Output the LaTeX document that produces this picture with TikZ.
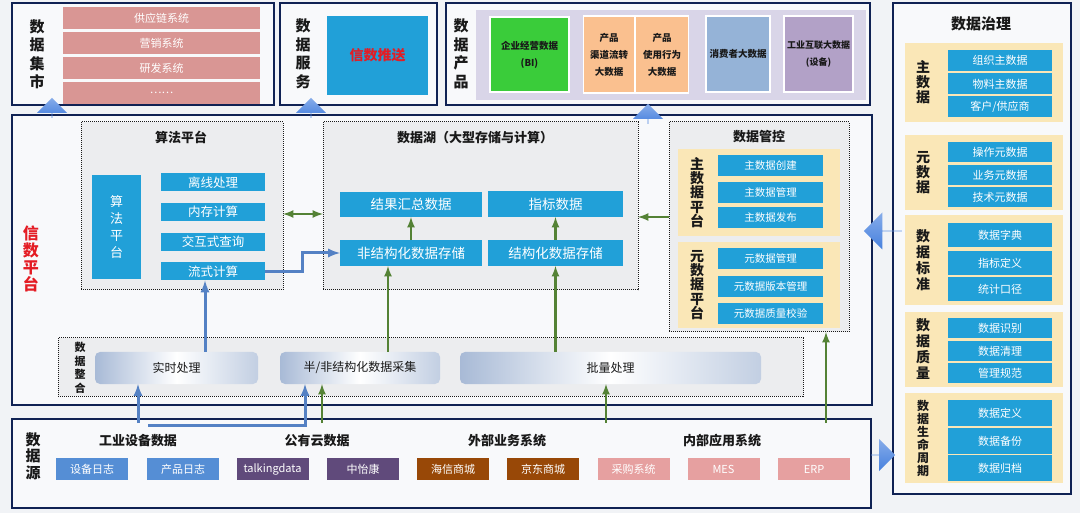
\documentclass[tikz,border=0pt]{standalone}
\usepackage{fontspec}
\setmainfont{Noto Sans CJK SC}
\usetikzlibrary{shapes.arrows}

\definecolor{navy}{RGB}{16,34,84}
\definecolor{bg}{RGB}{241,243,246}
\definecolor{panel}{RGB}{248,249,251}
\definecolor{itemblue}{RGB}{33,160,216}
\definecolor{pinkrow}{RGB}{217,150,148}
\definecolor{govyellow}{RGB}{250,231,183}
\definecolor{dotfill}{RGB}{236,237,239}
\definecolor{arrgreen}{RGB}{84,130,53}
\definecolor{arrblue}{RGB}{84,129,196}
\definecolor{lav}{RGB}{217,213,232}
\definecolor{bigreen}{RGB}{58,204,58}
\definecolor{peach}{RGB}{250,192,143}
\definecolor{consblue}{RGB}{149,179,215}
\definecolor{iiotpurple}{RGB}{178,161,199}
\definecolor{chipblue}{RGB}{85,142,213}
\definecolor{chippurple}{RGB}{96,74,123}
\definecolor{chipbrown}{RGB}{152,72,7}
\definecolor{chippink}{RGB}{230,160,160}
\definecolor{tubeedge}{RGB}{168,186,214}
\definecolor{ink}{RGB}{25,25,25}
\definecolor{xsred}{RGB}{228,28,36}
\definecolor{blockblue}{RGB}{70,128,222}

\newcommand{\vsz}[2]{\fontsize{#1}{#2}\selectfont}

\begin{document}
\begin{tikzpicture}[x=1pt, y=-1pt,
  every node/.style={inner sep=0pt, outer sep=0pt},
  outerframe/.style={draw=navy, line width=2.6pt, fill=panel},
  vlabel/.style={align=center, text=ink, font=\vsz{15}{18.5}\bfseries},
  item/.style={fill=itemblue, text=white, font=\vsz{11}{13}},
  govitem/.style={item, minimum width=104},
  ctlitem/.style={item, minimum width=105, minimum height=21, font=\vsz{10.5}{12}},
  lakeitem/.style={item, font=\vsz{13.5}{15}},
  dotbox/.style={draw=ink, densely dotted, line width=1pt, fill=dotfill},
  boxtitle/.style={text=ink, font=\vsz{13}{15}\bfseries},
  govgroup/.style={fill=govyellow},
  tube/.style={rounded corners=5pt, left color=tubeedge, right color=tubeedge!70, middle color=white, text=ink, font=\vsz{12}{14}},
  chip/.style={minimum width=72, minimum height=22, text=white, font=\vsz{11}{13}},
  srchead/.style={text=ink, font=\vsz{13}{15}\bfseries},
  prod/.style={text=ink, align=center, font=\vsz{9.5}{17}\bfseries, draw=white, line width=1.5pt},
  greenarr/.style={draw=arrgreen, line width=2.5pt, -latex},
  bluearr/.style={draw=arrblue, line width=3pt, -latex},
  blockarr/.style={single arrow, single arrow head extend=8pt, minimum width=30, minimum height=20, top color=blockblue!65, bottom color=blockblue, draw=none}
]
\fill[bg] (0,0) rectangle (1080,513); % background
\useasboundingbox (0,0) rectangle (1080,513);

% data mart
\node[outerframe, minimum width=262, minimum height=102] (mart) at (143,54) {};
\node[vlabel] (martlbl) at (37,54) {数\\据\\集\\市};
\foreach \t [count=\i] in {供应链系统,营销系统,研发系统,……}
  \node[fill=pinkrow, text=white, minimum width=197, minimum height=22, font=\vsz{11}{13}] (mart\i) at (161.5,{18.5+24.7*(\i-1)}) {\t};

% data service
\node[outerframe, minimum width=157, minimum height=102] (serv) at (358.5,54) {};
\node[vlabel] (servlbl) at (303,54) {数\\据\\服\\务};
\node[fill=itemblue, minimum width=101, minimum height=79, text=xsred, font=\vsz{14}{16}\bfseries] (push) at (377.5,55.5) {信数推送};

% data products
\node[outerframe, minimum width=424, minimum height=102] (prodframe) at (658,54) {};
\node[vlabel] (prodlbl) at (461,54) {数\\据\\产\\品};
\node[fill=lav, minimum width=390, minimum height=90] (band) at (671,55) {};
\node[prod, fill=bigreen, minimum width=79, minimum height=75] (bi) at (529.5,54.5) {企业经营数据\\(BI)};
\node[prod, fill=peach, minimum width=51, minimum height=77] (chan) at (609,54.5) {产品\\渠道流转\\大数据};
\node[prod, fill=peach, minimum width=53, minimum height=77] (use) at (662,54.5) {产品\\使用行为\\大数据};
\node[prod, fill=consblue, minimum width=64, minimum height=76] (cons) at (738,54) {消费者大数据};
\node[prod, fill=iiotpurple, minimum width=69, minimum height=76, font=\vsz{9}{17}\bfseries] (iiot) at (818.5,54) {工业互联大数据\\(设备)};

% data governance
\node[outerframe, minimum width=178, minimum height=491] (gov) at (982,248.5) {};
\node[boxtitle, font=\vsz{15}{17}\bfseries] (govtitle) at (981,24) {数据治理};
\node[govgroup, minimum width=158, minimum height=79] (mdg) at (984,82.5) {};
\node[vlabel, font=\vsz{14}{15}\bfseries] (mdglbl) at (923,82.5) {主\\数\\据};
\node[govitem, minimum height=21] (md1) at (1000,60.5) {组织主数据};
\node[govitem, minimum height=21] (md2) at (1000,84) {物料主数据};
\node[govitem, minimum height=21] (md3) at (1000,106.5) {客户/供应商};
\node[govgroup, minimum width=158, minimum height=75] (metag) at (984,172.5) {};
\node[vlabel, font=\vsz{14}{15}\bfseries] (metaglbl) at (923,172.5) {元\\数\\据};
\foreach \t/\y [count=\i] in {操作元数据/152.5, 业务元数据/175, 技术元数据/197}
  \node[govitem, minimum height=20] (mt\i) at (1000,\y) {\t};
\node[govgroup, minimum width=158, minimum height=90] (stdg) at (984,260) {};
\node[vlabel, font=\vsz{14}{16}\bfseries] (stdglbl) at (923,260) {数\\据\\标\\准};
\foreach \t/\y [count=\i] in {数据字典/235, 指标定义/263, 统计口径/289}
  \node[govitem, minimum height=24] (st\i) at (1000,\y) {\t};
\node[govgroup, minimum width=158, minimum height=75] (qg) at (984,349.5) {};
\node[vlabel, font=\vsz{14}{16}\bfseries] (qglbl) at (923,349.5) {数\\据\\质\\量};
\foreach \t/\y [count=\i] in {数据识别/328.5, 数据清理/351, 管理规范/373}
  \node[govitem, minimum height=20] (q\i) at (1000,\y) {\t};
\node[govgroup, minimum width=158, minimum height=90] (lcg) at (984,438) {};
\node[vlabel, font=\vsz{12}{13}\bfseries] (lcglbl) at (923,438) {数\\据\\生\\命\\周\\期};
\foreach \t/\y [count=\i] in {数据定义/413, 数据备份/441, 数据归档/468}
  \node[govitem, minimum height=26] (lc\i) at (1000,\y) {\t};

% platform
\node[outerframe, minimum width=860, minimum height=290] (plat) at (442,260) {};
\node[vlabel, text=xsred, font=\vsz{16}{17}\bfseries] (platlbl) at (31,259) {信\\数\\平\\台};

% algorithm platform
\node[dotbox, minimum width=202, minimum height=168] (algo) at (182,206) {};
\node[boxtitle] (algotitle) at (181,137) {算法平台};
\node[item, minimum width=49, minimum height=104, align=center, font=\vsz{13}{17}] (algov) at (116.5,227) {算\\法\\平\\台};
\foreach \t/\y/\n in {离线处理/182.5/off, 内存计算/212/mem, 交互式查询/242/inter, 流式计算/271.5/stream}
  \node[item, minimum width=104, minimum height=18, font=\vsz{12.5}{14}] (\n) at (213,\y) {\t};

% data lake
\node[dotbox, minimum width=315, minimum height=168] (lake) at (480.5,206) {};
\node[boxtitle] (laketitle) at (475,138) {数据湖（大型存储与计算）};
\node[lakeitem, minimum width=142, minimum height=25] (result) at (411,204.5) {结果汇总数据};
\node[lakeitem, minimum width=135, minimum height=26] (index) at (555.5,204) {指标数据};
\node[lakeitem, minimum width=142, minimum height=26] (unstr) at (411,253) {非结构化数据存储};
\node[lakeitem, minimum width=135, minimum height=26] (str) at (555.5,253) {结构化数据存储};

% data control
\node[dotbox, minimum width=180, minimum height=210] (ctrl) at (759,227) {};
\node[boxtitle] (ctrltitle) at (759,137) {数据管控};
\node[govgroup, minimum width=162, minimum height=87] (mdp) at (759,192.5) {};
\node[vlabel, font=\vsz{14}{14.3}\bfseries] (mdplbl) at (697,192.5) {主\\数\\据\\平\\台};
\foreach \t/\y [count=\i] in {主数据创建/165.5, 主数据管理/192.5, 主数据发布/217.5}
  \node[ctlitem] (mdp\i) at (770.5,\y) {\t};
\node[govgroup, minimum width=162, minimum height=86] (mtp) at (759,285) {};
\node[vlabel, font=\vsz{14}{14.3}\bfseries] (mtplbl) at (697,285) {元\\数\\据\\平\\台};
\foreach \t/\y [count=\i] in {元数据管理/258.5, 元数据版本管理/286.5, 元数据质量校验/313.5}
  \node[ctlitem] (mtp\i) at (770.5,\y) {\t};

% data integration
\node[dotbox, minimum width=745, minimum height=58] (integ) at (430.5,367) {};
\node[vlabel, font=\vsz{11}{13.5}\bfseries] (integlbl) at (80,368) {数\\据\\整\\合};
\node[tube, minimum width=163, minimum height=32] (rt) at (176.5,368) {实时处理};
\node[tube, minimum width=160, minimum height=32] (semi) at (360,368) {半/非结构化数据采集};
\node[tube, minimum width=301, minimum height=32] (batch) at (610.5,368) {批量处理};

% data sources
\node[outerframe, minimum width=859, minimum height=89] (src) at (441.5,463.5) {};
\node[vlabel, font=\vsz{15}{16.5}\bfseries] (srclbl) at (33,456) {数\\据\\源};
\node[srchead] (h1) at (138,441) {工业设备数据};
\node[srchead] (h2) at (317,441) {公有云数据};
\node[srchead] (h3) at (507,441) {外部业务系统};
\node[srchead] (h4) at (722,441) {内部应用系统};
\foreach \t/\x/\c [count=\i] in {设备日志/92/chipblue, 产品日志/183/chipblue, talkingdata/272.5/chippurple, 中怡康/363/chippurple, 海信商城/453/chipbrown, 京东商城/543/chipbrown, 采购系统/633.5/chippink, MES/723.5/chippink, ERP/814/chippink}
  \node[chip, fill=\c] (chip\i) at (\x,469) {\t};

% connectors
\coordinate (s1) at (138,423);
\coordinate (s2) at (148,425);
\coordinate (s3) at (305,425);
\coordinate (s4) at (322,423);
\coordinate (s5) at (606,423);
\coordinate (s6) at (826,423);
\coordinate (c1) at ([yshift=10pt]ctrl.west);
\coordinate (c2) at (205,352);
\coordinate (c3) at (388,352);
\draw[bluearr] (s1) -- (s1 |- rt.south); % source to real time
\draw[bluearr] (s2) -- (s3) -- (s3 |- semi.south); % source to semi
\draw[greenarr] (s4) -- (s4 |- semi.south);
\draw[greenarr] (s5) -- (s5 |- batch.south);
\draw[greenarr] (s6) -- (s6 |- ctrl.south); % source to control
\draw[bluearr] (c2) -- (c2 |- stream.south); % real time to stream
\draw[greenarr] (c3) -- (c3 |- unstr.south);
\draw[greenarr] (str.south |- batch.north) -- (str.south);
\draw[greenarr] (unstr.north -| result) -- (result.south);
\draw[greenarr] (str.north) -- (index.south);
\draw[bluearr] (stream.east) -- ++(37,0) |- (unstr.west); % stream to lake
\draw[greenarr] (c1) -- (c1 -| lake.east); % control to lake
\draw[draw=arrgreen, line width=2.5pt, latex-latex] ([yshift=-8pt]algo.east) -- ([yshift=-8pt]lake.west);

% block arrows
\node[blockarr, shape border rotate=90] (up1) at (52,108) {};
\node[blockarr, shape border rotate=90] (up2) at (311,108) {};
\node[blockarr, shape border rotate=90] (up3) at (648,114) {};
\node[blockarr, shape border rotate=180, minimum width=37, minimum height=38, single arrow head extend=9pt] (left1) at (883,231) {};
\node[blockarr, minimum width=32, minimum height=24] (right1) at (883,455) {};
\end{tikzpicture}
\end{document}
